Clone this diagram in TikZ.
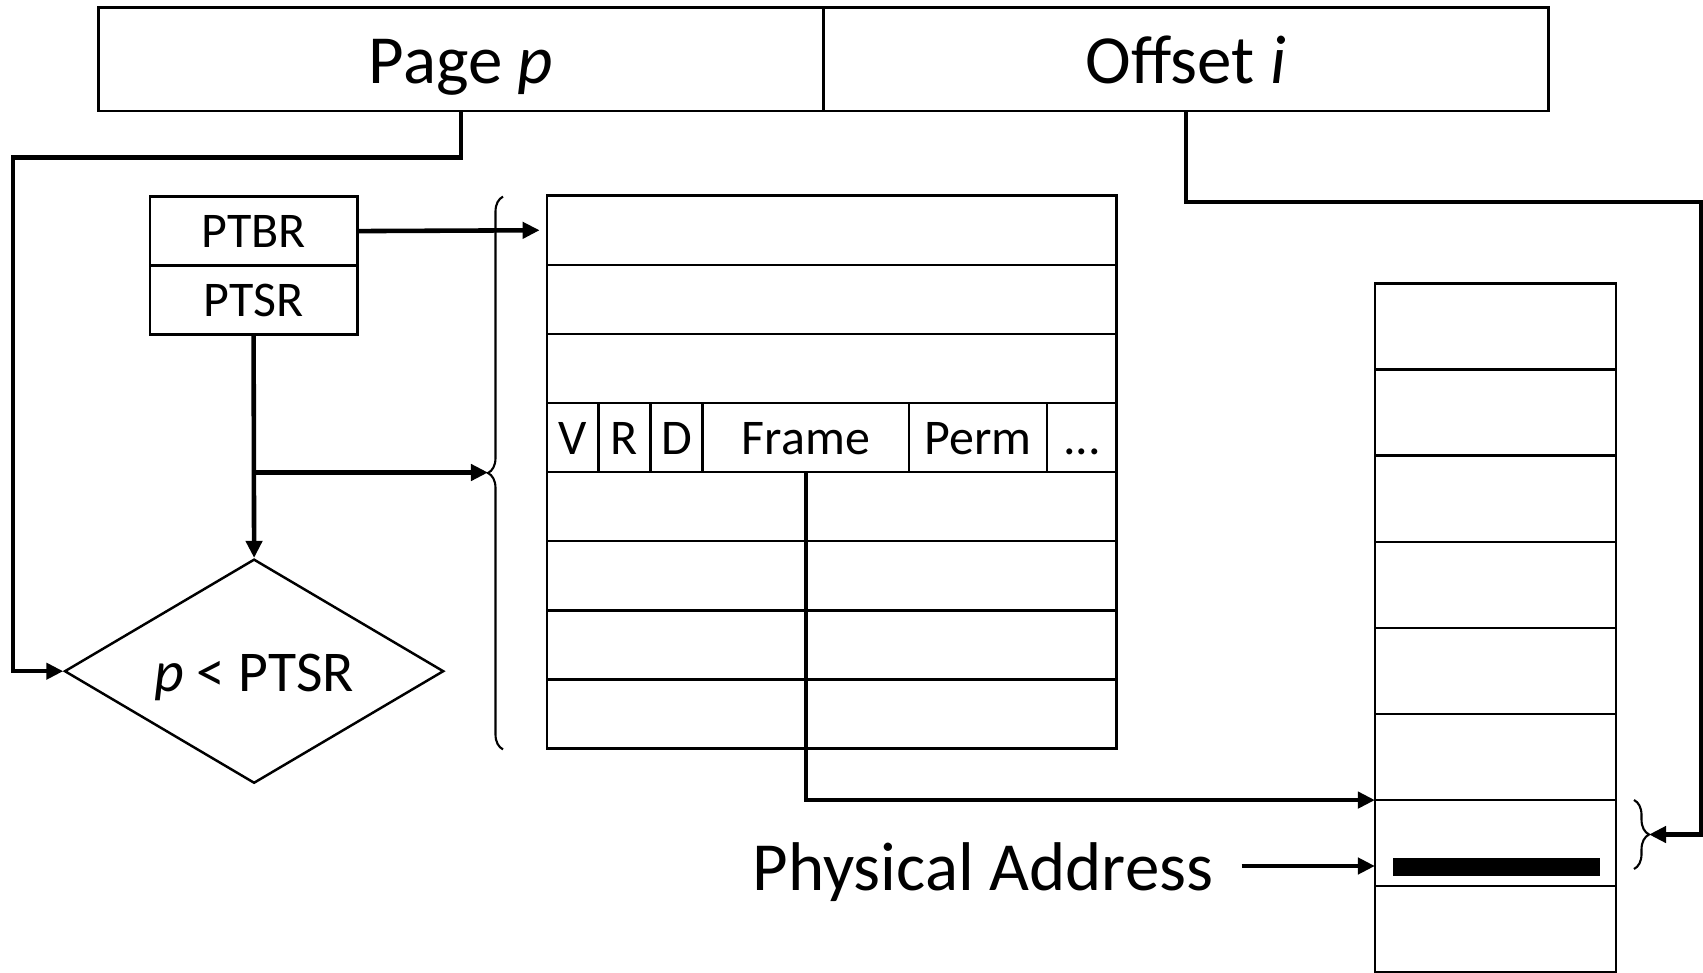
\documentclass[tikz,border=0pt]{standalone}
\usepackage{fontspec}
\setmainfont{Carlito}
\usetikzlibrary{arrows.meta,positioning,shapes.geometric,decorations.pathreplacing}

\begin{document}
\begin{tikzpicture}[x=0.01cm,y=-0.01cm,
		cell/.style={draw, line width=0.7pt, inner sep=0pt, outer sep=0pt},
		big/.style={font=\fontsize{19.6}{22}\selectfont},
		field/.style={cell, minimum height=0.691cm, text height=0.34cm, text depth=0pt, font=\fontsize{14.2}{16}\selectfont},
		reg/.style={cell, minimum width=2.074cm, minimum height=0.69cm, font=\fontsize{14.2}{16}\selectfont},
		conn/.style={line width=1.3pt, -{Triangle[length=0.17cm,width=0.16cm]}},
		brc/.style={decorate, decoration={brace, amplitude=0.15cm}, line width=0.6pt}]
		\useasboundingbox (0,0) rectangle (1703,973);
		% virtual address
		\node[cell, big, text height=0.48cm, text depth=0pt, minimum width=7.245cm, minimum height=1.032cm] (page) at (461.05,59.2) {Page \textit{p}};
		\node[cell, big, text height=0.48cm, text depth=0pt, minimum width=7.244cm, minimum height=1.032cm, right=0pt of page] (offset) {Offset \textit{i}};
		% registers
		\node[reg] (ptbr) at (253.6,231.1) {PTBR};
		\node[reg, below=0pt of ptbr] (ptsr) {PTSR};
		\node[draw, diamond, aspect=1.69, line width=0.7pt, minimum width=3.79cm, minimum height=2.24cm, inner sep=0pt, text height=0.41cm, text depth=0pt, font=\fontsize{16.4}{18}\selectfont] (cmp) at (254.1,671.2) {\textit{p} < PTSR};
		% page table
		\foreach \r in {1,...,8}
			\node[cell, minimum width=5.691cm, minimum height=0.691cm] (row\r) at (831.95,{161.15+69.1*\r}) {};
		\node[field, minimum width=0.51cm, anchor=west] (v) at (row4.west) {V};
		\node[field, minimum width=0.522cm, right=0pt of v] (r) {R};
		\node[field, minimum width=0.521cm, right=0pt of r] (d) {D};
		\node[field, minimum width=2.064cm, right=0pt of d] (frame) {Frame};
		\node[field, minimum width=1.379cm, right=0pt of frame] (perm) {Perm};
		\node[field, minimum width=0.695cm, right=0pt of perm] (rest) {...};
		% physical memory
		\foreach \m in {1,...,8}
			\node[cell, minimum width=2.411cm, minimum height=0.861cm] (mem\m) at (1495.55,{240.45+86.1*\m}) {};
		\node[fill=black, minimum width=2.07cm, minimum height=0.18cm, inner sep=0pt] (bar) at (1496.5,867) {};
		\node[big, inner sep=0pt, anchor=base east] (addr) at (1214,890) {Physical Address};
		% braces
		\draw[brc] (503,749.4) -- (503,196.6);
		\draw[brc] (1634,800) -- (1634,869);
		\coordinate (ltip) at (488,472.5);
		\coordinate (rtip) at (1649,834.5);
		\coordinate (pbend) at (13,157.5);
		\coordinate (obend) at (1700.8,202);
		\coordinate (pa) at (1241.7,866);
		% connectors
		\draw[conn] (page.south) |- (pbend) |- (cmp.west);
		\draw[conn] (offset.south) |- (obend) |- (rtip);
		\draw[conn] (ptbr.east) -- ([xshift=-0.076cm]row1.west);
		\draw[conn] (ptsr.south) -- (cmp.north);
		\draw[conn] (ptsr.south |- ltip) -- (ltip);
		\draw[conn] (frame.south) |- (mem7.north west);
		\draw[conn] (pa) -- (pa -| mem7.west);
\end{tikzpicture}
\end{document}
